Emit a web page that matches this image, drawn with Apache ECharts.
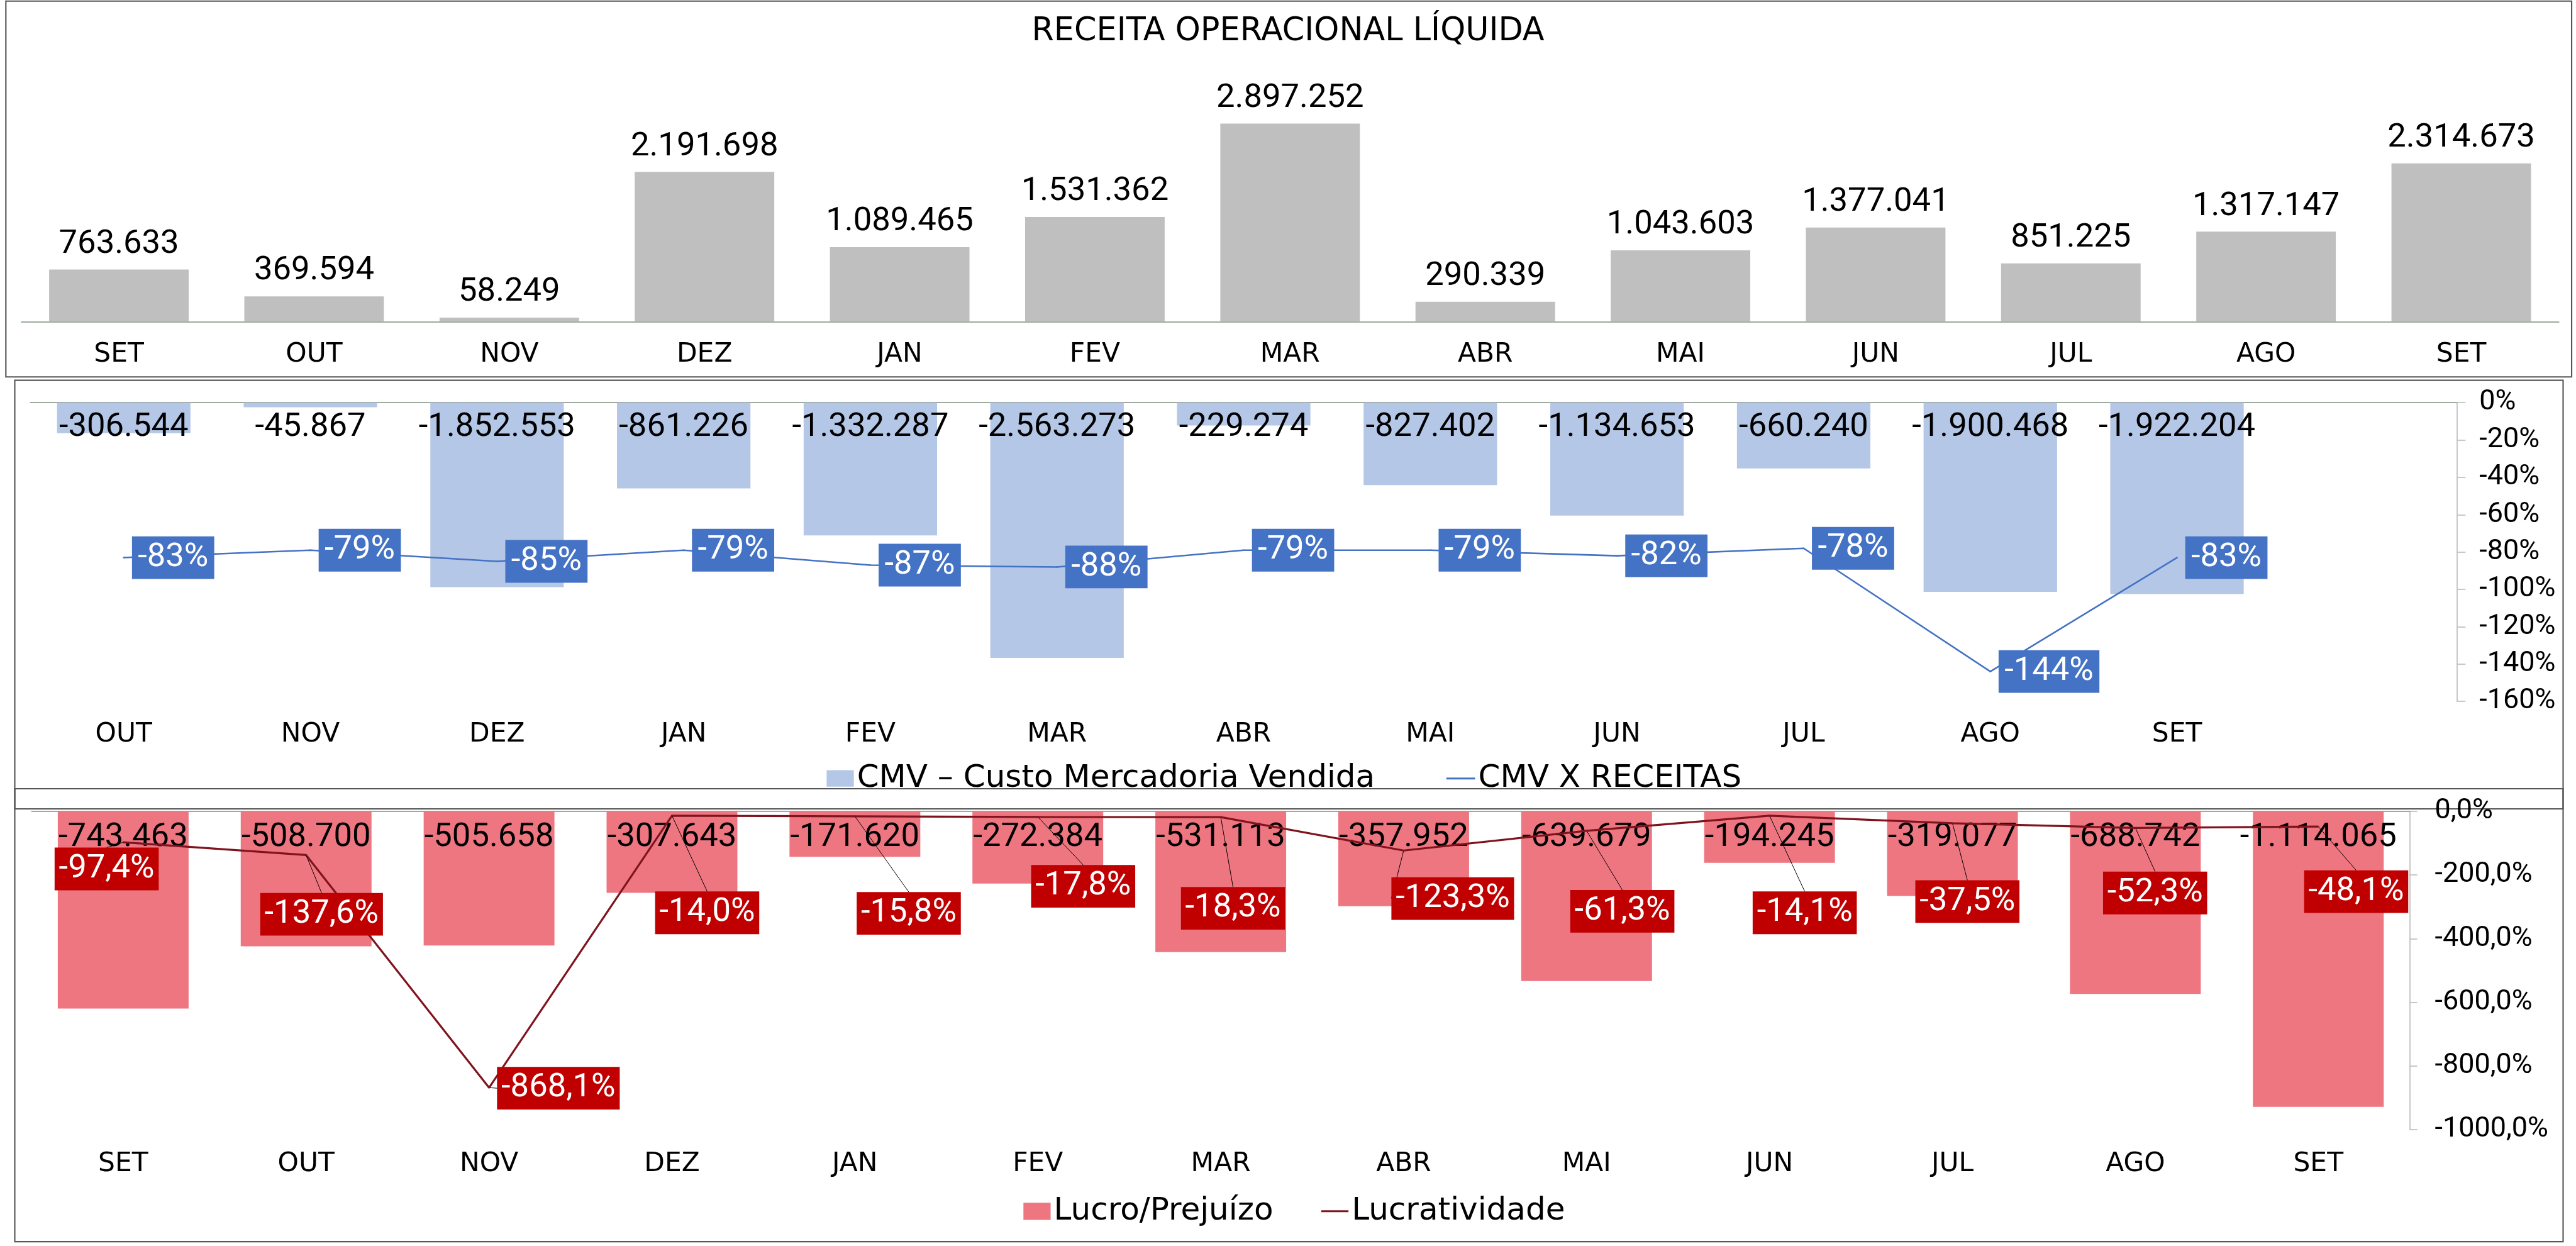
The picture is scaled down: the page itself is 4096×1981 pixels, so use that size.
<!DOCTYPE html>
<html>
<head>
<meta charset="utf-8">
<script src="https://cdn.jsdelivr.net/npm/echarts@6/dist/echarts.min.js"></script>
<style>
html, body { margin: 0; padding: 0; background: #fff; }
#chart { width: 4096px; height: 1981px; }
</style>
</head>
<body>
<div id="chart"></div>
<script>
var K = 0.848;
function p(v) { return v * K; }

var meses = ['SET', 'OUT', 'NOV', 'DEZ', 'JAN', 'FEV', 'MAR', 'ABR', 'MAI', 'JUN', 'JUL', 'AGO', 'SET'];
var mesesCmv = ['OUT', 'NOV', 'DEZ', 'JAN', 'FEV', 'MAR', 'ABR', 'MAI', 'JUN', 'JUL', 'AGO', 'SET', ''];

var receita = [763633, 369594, 58249, 2191698, 1089465, 1531362, 2897252, 290339, 1043603, 1377041, 851225, 1317147, 2314673];
var cmv = [-306544, -45867, -1852553, -861226, -1332287, -2563273, -229274, -827402, -1134653, -660240, -1900468, -1922204, null];
var cmvReceita = [-83, -79, -85, -79, -87, -88, -79, -79, -82, -78, -144, -83, null];
var lucro = [-743463, -508700, -505658, -307643, -171620, -272384, -531113, -357952, -639679, -194245, -319077, -688742, -1114065];
var lucratividade = [-97.4, -137.6, -868.1, -14.0, -15.8, -17.8, -18.3, -123.3, -61.3, -14.1, -37.5, -52.3, -48.1];

// onde cada rotulo de lucratividade foi arrastado (px da referencia, relativo ao ponto)
var desloc = [[-31, 50], [29, 111], [130, 1], [66, 182], [101, 182], [85, 130], [23, 171],
              [92, 90], [67, 151], [66, 182], [28, 147], [37, 122], [71, 122]];

var fonteNum = 'Roboto';       // numeros
var fonteTxt = 'DejaVu Sans';  // titulo, meses, legendas
var corEixo = '#7f8f7f';

function milhar(v) {
    var s = Math.abs(Math.round(v)).toString().replace(/\B(?=(\d{3})+(?!\d))/g, '.');
    return (v < 0 ? '-' : '') + s;
}
function pct1(v) {
    return v.toFixed(1).replace('.', ',') + '%';
}

function rotCat(margem) {
    return { interval: 0, margin: p(margem), fontSize: p(50), color: '#000', fontFamily: fonteTxt };
}
function rotBarra(pos, dist) {
    return {
        show: true, position: pos, distance: p(dist),
        formatter: function (prm) { return milhar(prm.value); },
        fontSize: p(62), lineHeight: p(62), color: '#000', fontFamily: fonteNum
    };
}
function legenda(nome, x, y, w, h, cor) {
    var item = { name: nome, icon: 'rect' };
    if (cor) item.itemStyle = { color: cor };
    return {
        data: [item], left: p(x), top: p(y), padding: 0,
        itemWidth: p(w), itemHeight: p(h), selectedMode: false,
        textStyle: { fontSize: p(59), lineHeight: p(60), color: '#000', fontFamily: fonteTxt }
    };
}
function caixa(x, y, w, h) {
    return {
        type: 'rect', silent: true,
        shape: { x: p(x), y: p(y), width: p(w), height: p(h) },
        style: { fill: 'none', stroke: '#555', lineWidth: p(2.5) }
    };
}

var myChart = echarts.init(document.getElementById('chart'));

var option = {
    animation: false,
    backgroundColor: '#fff',
    title: {
        text: 'RECEITA OPERACIONAL LÍQUIDA',
        left: 'center', top: p(30), padding: 0,
        textStyle: { fontSize: p(60), lineHeight: p(60), fontWeight: 'normal', color: '#000', fontFamily: fonteTxt }
    },
    graphic: [
        caixa(11, 2, 4811, 704.7),
        caixa(27.7, 713, 4778.3, 803.5),
        caixa(27.7, 1478.7, 4778.3, 849.3)
    ],
    legend: [
        legenda('CMV – Custo Mercadoria Vendida', 1550, 1429.5, 51, 31),
        legenda('CMV X RECEITAS', 2712, 1429.5, 54, 3.5, '#4472C4'),
        legenda('Lucro/Prejuízo', 1919, 2241, 51, 32),
        legenda('Lucratividade', 2477.5, 2241, 51, 3.5, '#80141E')
    ],
    grid: [
        { left: p(40), top: p(90.5), width: p(4758), height: p(512.5) },
        { left: p(57), top: p(755), width: p(4550), height: p(560) },
        { left: p(59.5), top: p(1521), width: p(4459), height: p(597) }
    ],
    xAxis: [
        { gridIndex: 0, type: 'category', data: meses,
          axisLine: { lineStyle: { color: corEixo, width: p(2) } },
          axisTick: { show: false }, axisLabel: rotCat(37) },
        { gridIndex: 1, type: 'category', data: mesesCmv, position: 'bottom',
          axisLine: { show: false, onZero: false }, axisTick: { show: false }, axisLabel: rotCat(37) },
        { gridIndex: 1, type: 'category', data: mesesCmv, position: 'top',
          axisLine: { show: true, onZero: false, lineStyle: { color: corEixo, width: p(2) } },
          axisTick: { show: false }, axisLabel: { show: false } },
        { gridIndex: 2, type: 'category', data: meses, position: 'bottom',
          axisLine: { show: false, onZero: false }, axisTick: { show: false }, axisLabel: rotCat(39.5) },
        { gridIndex: 2, type: 'category', data: meses, position: 'top',
          axisLine: { show: true, onZero: false, lineStyle: { color: corEixo, width: p(2) } },
          axisTick: { show: false }, axisLabel: { show: false } }
    ],
    yAxis: [
        { gridIndex: 0, type: 'value', min: 0, max: 4000000, show: false },
        { gridIndex: 1, type: 'value', min: -3000000, max: 0, show: false },
        { gridIndex: 1, type: 'value', position: 'right', min: -160, max: 0, interval: 20,
          axisLine: { show: true, lineStyle: { color: '#bfbfbf', width: p(2) } },
          axisTick: { show: true, length: p(16), lineStyle: { color: '#bfbfbf', width: p(2) } },
          splitLine: { show: false },
          axisLabel: { margin: p(42), fontSize: p(53), color: '#000', fontFamily: fonteNum,
                       formatter: function (v) { return v + '%'; } } },
        { gridIndex: 2, type: 'value', min: -1200000, max: 0, show: false },
        { gridIndex: 2, type: 'value', position: 'right', min: -1000, max: 0, interval: 200,
          axisLine: { show: true, lineStyle: { color: '#bfbfbf', width: p(2) } },
          axisTick: { show: true, length: p(14), lineStyle: { color: '#bfbfbf', width: p(2) } },
          splitLine: { show: false },
          axisLabel: { margin: p(47), fontSize: p(53), color: '#000', fontFamily: fonteNum,
                       formatter: function (v) { return pct1(v); } } }
    ],
    series: [
        { name: 'Receita', type: 'bar', xAxisIndex: 0, yAxisIndex: 0, data: receita,
          barCategoryGap: '28.5%', itemStyle: { color: '#BFBFBF' },
          label: rotBarra('top', 16) },
        { name: 'CMV – Custo Mercadoria Vendida', type: 'bar', xAxisIndex: 1, yAxisIndex: 1, data: cmv,
          barCategoryGap: '28.5%', itemStyle: { color: '#B4C7E7' },
          label: rotBarra('insideTop', 16) },
        { name: 'CMV X RECEITAS', type: 'line', xAxisIndex: 1, yAxisIndex: 2, data: cmvReceita,
          symbol: 'circle', symbolSize: p(3),
          itemStyle: { color: '#4472C4' }, lineStyle: { color: '#4472C4', width: p(3) },
          label: { show: true, position: 'right', distance: p(14),
                   formatter: function (prm) { return prm.value + '%'; },
                   color: '#fff', backgroundColor: '#4472C4', padding: [p(9), p(11)],
                   textBorderWidth: 0, fontSize: p(62), lineHeight: p(62), fontFamily: fonteNum } },
        { name: 'Lucro/Prejuízo', type: 'bar', xAxisIndex: 3, yAxisIndex: 3, data: lucro,
          barCategoryGap: '28.5%', itemStyle: { color: '#EE7680' },
          label: rotBarra('insideTop', 19) },
        { name: 'Lucratividade', type: 'line', xAxisIndex: 3, yAxisIndex: 4, data: lucratividade,
          symbol: 'circle', symbolSize: p(3),
          itemStyle: { color: '#80141E' }, lineStyle: { color: '#80141E', width: p(3.8) },
          label: { show: true, position: 'inside',
                   formatter: function (prm) { return pct1(prm.value); },
                   color: '#fff', backgroundColor: '#C00000', padding: [p(9), p(8)],
                   textBorderWidth: 0, fontSize: p(62), lineHeight: p(62), fontFamily: fonteNum },
          labelLayout: function (prm) {
              var d = desloc[prm.dataIndex];
              return { dx: p(d[0]), dy: p(d[1]) };
          },
          labelLine: { show: true, lineStyle: { color: '#000', width: 1 } } }
    ]
};

myChart.setOption(option);
</script>
</body>
</html>
